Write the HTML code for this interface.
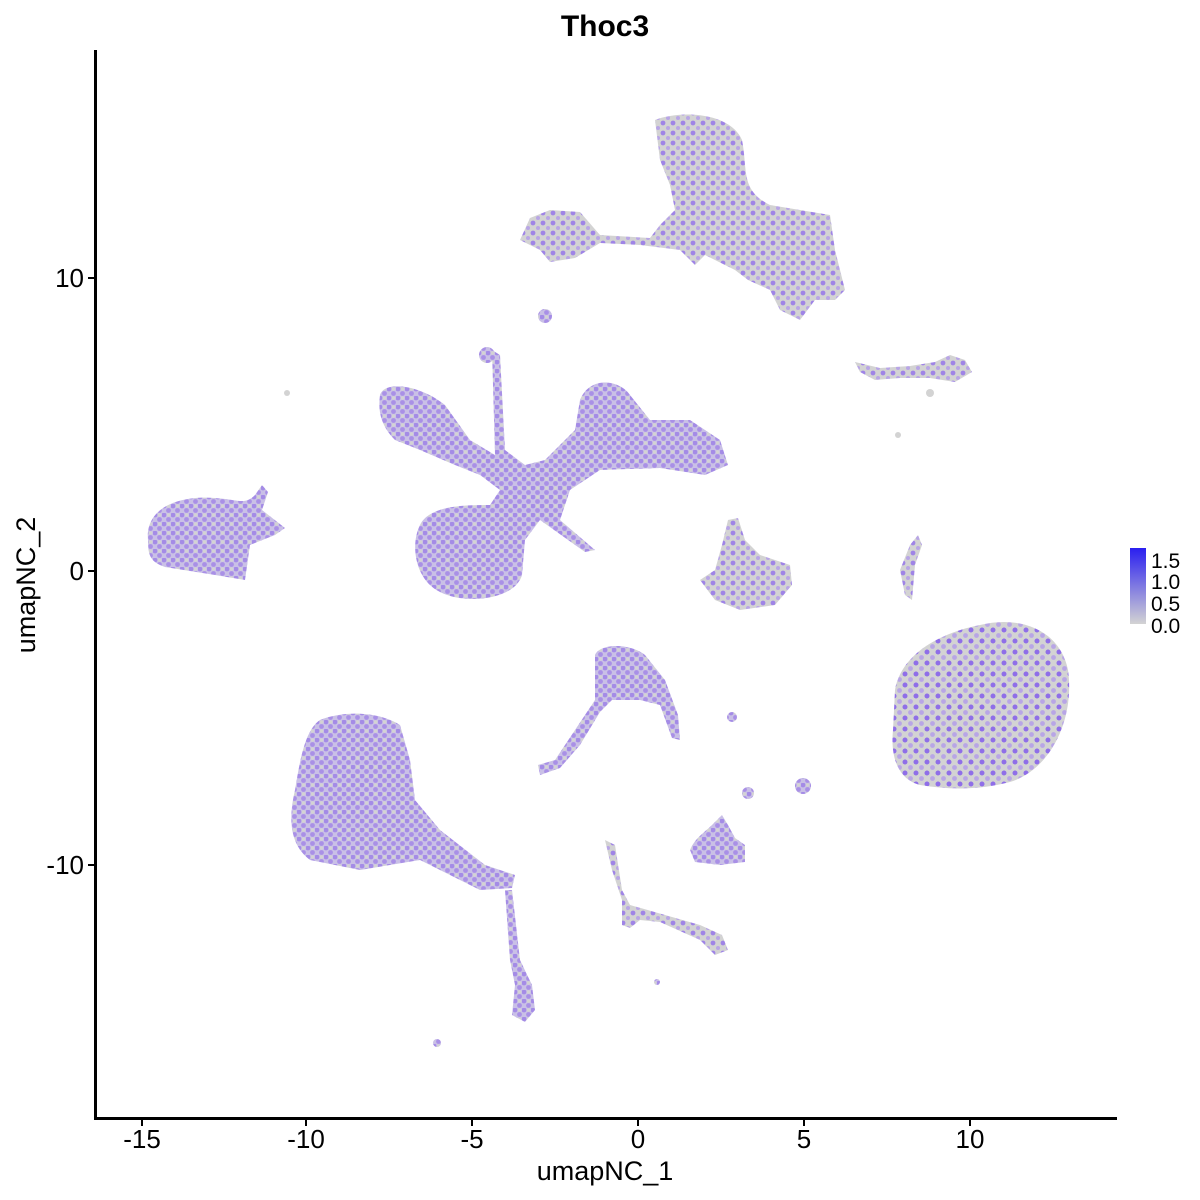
<!DOCTYPE html>
<html><head><meta charset="utf-8"><style>
body{margin:0;background:#fff}
svg{display:block;font-family:"Liberation Sans",sans-serif}
</style></head><body>
<svg width="1200" height="1200" viewBox="0 0 1200 1200">
<defs>
<pattern id="pa" width="9" height="9" patternUnits="userSpaceOnUse">
<rect width="9" height="9" fill="#c9c0e6"/>
<circle cx="2" cy="2" r="2.4" fill="#a48be6"/><circle cx="6.5" cy="6.5" r="2.4" fill="#a990e6"/>
<circle cx="6.5" cy="2" r="1.8" fill="#d3d3d3"/>
</pattern>
<pattern id="pb" width="10" height="10" patternUnits="userSpaceOnUse">
<rect width="10" height="10" fill="#d3d3d3"/>
<circle cx="3" cy="3" r="2.4" fill="#9f84e6"/><circle cx="8" cy="8" r="2" fill="#b9a6e6"/>
</pattern>
<pattern id="pc" width="11" height="11" patternUnits="userSpaceOnUse">
<rect width="11" height="11" fill="#d3d3d3"/>
<circle cx="3" cy="3" r="2.5" fill="#8f6ee8"/><circle cx="8.5" cy="8.5" r="2.4" fill="#b8a5e6"/>
</pattern>
</defs>
<text x="605" y="36" text-anchor="middle" font-size="30" font-weight="bold">Thoc3</text>
<g stroke="none">
<path d="M148,540 C145,510 175,495 215,498 C240,500 245,505 255,495 L262,485 L268,492 L262,510 L285,528 L275,535 L250,545 L245,580 L215,575 L165,567 C150,562 148,555 148,540Z" fill="url(#pa)"/>
<path d="M655,120 C680,110 730,112 742,140 C748,170 740,190 770,205 L830,215 L835,250 L845,290 L835,300 L815,300 L800,320 L780,310 L770,290 L748,280 L735,270 L705,255 L695,265 L680,250 L640,245 L600,243 L575,258 L550,262 L540,250 L520,240 L530,218 L550,210 L580,212 L600,235 L650,238 L660,225 L675,210 L670,185 L660,160 Z" fill="url(#pb)"/>
<path d="M380,395 C385,380 420,385 445,405 L470,440 L495,455 L492,350 L500,355 L505,450 L525,465 L545,460 L575,430 L580,400 C590,375 620,380 630,395 L650,420 L690,420 L720,440 L728,465 L705,475 L660,468 L600,470 L570,490 L560,520 L595,550 L585,552 L540,520 L525,540 L522,575 C515,600 465,605 440,592 C415,580 410,545 420,525 C430,505 465,505 490,505 L500,490 L480,475 L455,465 L420,450 L395,440 C380,425 378,410 380,395Z" fill="url(#pa)"/>
<path d="M700,580 L715,570 L722,545 L728,520 L738,518 L745,540 L760,555 L775,560 L790,565 L792,585 L775,605 L740,610 L715,600 Z" fill="url(#pb)"/>
<path d="M895,690 C900,660 930,635 980,625 C1020,615 1060,630 1068,670 C1075,720 1050,770 1010,782 C980,790 950,790 920,785 C900,780 890,760 893,730Z" fill="url(#pc)"/>
<path d="M295,790 C300,760 305,730 320,720 C345,710 380,712 400,725 L410,760 L415,800 L440,830 L485,865 L515,875 L512,888 L480,890 L460,880 L420,860 L360,870 L310,860 C290,845 288,820 295,790Z" fill="url(#pa)"/>
<path d="M505,890 L512,890 L520,960 L532,985 L535,1010 L525,1022 L512,1015 L515,985 L510,960Z" fill="url(#pa)"/>
<path d="M595,655 C600,643 630,643 645,655 L665,680 L678,715 L680,740 L672,738 L660,705 L640,700 L612,700 L600,712 L580,745 L560,768 L540,775 L538,765 L555,760 L575,730 L595,700 Z" fill="url(#pa)"/>
<path d="M690,850 C695,838 705,832 712,825 L722,815 L728,825 L735,838 L745,845 L745,862 L720,865 L695,862 Z" fill="url(#pa)"/>
<path d="M605,840 L615,845 L622,890 L630,905 L665,915 L700,925 L722,935 L728,950 L715,955 L700,940 L660,922 L640,920 L630,928 L622,925 L622,900 L612,870Z" fill="url(#pb)"/>
<path d="M855,362 L880,368 L910,366 L935,362 L950,355 L965,360 L972,372 L955,382 L930,378 L900,378 L875,380 L860,372Z" fill="url(#pb)"/>
<path d="M900,570 L910,545 L918,535 L922,545 L915,565 L912,600 L905,595Z" fill="url(#pb)"/>
<circle cx="545" cy="316" r="7" fill="url(#pa)"/>
<circle cx="487" cy="355" r="8" fill="url(#pa)"/>
<circle cx="803" cy="786" r="8" fill="url(#pa)"/>
<circle cx="732" cy="717" r="5" fill="url(#pa)"/>
<circle cx="748" cy="793" r="6" fill="url(#pa)"/>
<circle cx="437" cy="1043" r="4" fill="url(#pa)"/>
<circle cx="657" cy="982" r="3" fill="url(#pa)"/>
<circle cx="287" cy="393" r="3" fill="#d3d3d3"/>
<circle cx="898" cy="435" r="3" fill="#d3d3d3"/>
<circle cx="930" cy="393" r="4" fill="#d3d3d3"/>
</g>
<line x1="95.5" y1="50" x2="95.5" y2="1119" stroke="#000" stroke-width="3"/>
<line x1="94" y1="1118.5" x2="1117" y2="1118.5" stroke="#000" stroke-width="3"/>
<g stroke="#000" stroke-width="2">
<line x1="142" y1="1119" x2="142" y2="1126"/><line x1="306" y1="1119" x2="306" y2="1126"/>
<line x1="472" y1="1119" x2="472" y2="1126"/><line x1="638" y1="1119" x2="638" y2="1126"/>
<line x1="804" y1="1119" x2="804" y2="1126"/><line x1="970" y1="1119" x2="970" y2="1126"/>
<line x1="88" y1="278" x2="95" y2="278"/><line x1="88" y1="571" x2="95" y2="571"/><line x1="88" y1="865" x2="95" y2="865"/>
</g>
<g font-size="26" text-anchor="middle">
<text x="142" y="1148">-15</text><text x="306" y="1148">-10</text><text x="472" y="1148">-5</text>
<text x="638" y="1148">0</text><text x="804" y="1148">5</text><text x="970" y="1148">10</text>
</g>
<g font-size="26" text-anchor="end">
<text x="84" y="287">10</text><text x="84" y="580">0</text><text x="84" y="874">-10</text>
</g>
<text x="605" y="1180" font-size="27" text-anchor="middle">umapNC_1</text>
<text x="35" y="585" font-size="27" text-anchor="middle" transform="rotate(-90 35 585)">umapNC_2</text>
<defs><linearGradient id="lg" x1="0" y1="1" x2="0" y2="0"><stop offset="0" stop-color="#d3d3d3"/><stop offset="1" stop-color="#2a1ff0"/></linearGradient></defs>
<rect x="1130" y="548" width="16" height="76" fill="url(#lg)"/>
<g font-size="21"><text x="1151" y="568">1.5</text><text x="1151" y="589">1.0</text><text x="1151" y="611">0.5</text><text x="1151" y="633">0.0</text></g>
</svg>
</body></html>
